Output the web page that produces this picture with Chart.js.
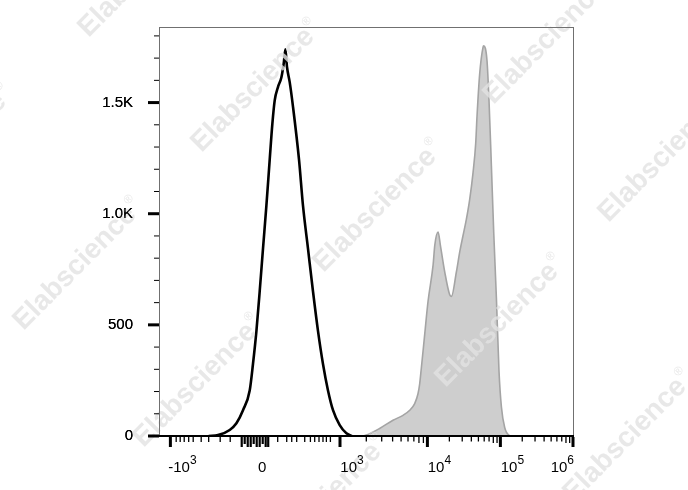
<!DOCTYPE html>
<html>
<head>
<meta charset="utf-8">
<script src="https://cdn.jsdelivr.net/npm/chart.js@4/dist/chart.umd.min.js"></script>
<style>
html,body{margin:0;padding:0;background:#fff;}
canvas{display:block;}
</style>
</head>
<body>
<canvas id="c" width="688" height="490"></canvas>
<script>
// x is the display channel of the biexponential axis (0 = left edge, 1000 = right edge)
const blackX = [120, 142.5, 170.8, 187, 202.9, 219.1, 227, 235.3, 243.2, 251.2, 259.4, 267.4, 273.9, 279.5, 287.4, 295.7, 301.2, 305.3, 309.2, 315.7, 323.7, 338.2, 347.8, 359.9, 372, 384.1, 396.1, 408.2, 420.3, 436.5, 452.7, 465.5];
const blackY = [0, 4, 27, 57, 116, 205, 324, 472, 650, 843, 1036, 1243, 1406, 1510, 1570, 1614, 1675, 1740, 1660, 1592, 1481, 1243, 1036, 843, 650, 472, 324, 205, 116, 49, 12, 0];

const grayX = [492.8, 501, 532.9, 565.2, 589.4, 605.6, 617.6, 625.6, 629.7, 633.8, 641.8, 649.8, 662.1, 666.2, 674.2, 679.7, 690.1, 702.2, 706.3, 718.4, 726.4, 734.4, 742.5, 750.5, 758.5, 765, 768.1, 774.6, 782.6, 784.3, 792.3, 797.1, 802.9, 808.5, 815, 821.3, 827.1, 835, 845, 854];
const grayY = [0, 4, 34, 71, 93, 116, 146, 190, 235, 308, 457, 605, 770, 859, 917, 858, 739, 635, 628, 739, 828, 902, 976, 1065, 1184, 1317, 1436, 1629, 1748, 1755, 1688, 1510, 1215, 917, 620, 290, 130, 38, 4, 0];

// axis ticks
const xMajorTicks = [27.5, 220, 437.2, 648.3, 824.6, 1000];
const xLabelBase = ["-10", "0", "10", "10", "10", "10"];
const xLabelExp = ["3", "", "3", "4", "5", "6"];
const xLinearMinorTicks = [41.5, 51.2, 60.9, 71.7, 82.6, 101.9, 120, 147.8, 172, 286.7, 308.5, 320.6, 332.6, 352, 365.7, 376.1, 386.5, 396.1, 404.3, 414];
const xZeroClusterTicks = [199.8, 207, 214.3, 221.5, 228.7, 236, 243.2, 250.5, 257.7, 263.8];
const yTickValues = [0, 500, 1000, 1500];
const yTickLabels = ["0", "500", "1.0K", "1.5K"];
const yMinorTicks = [100, 200, 300, 400, 600, 700, 800, 900, 1100, 1200, 1300, 1400, 1600, 1700, 1800];
const watermarkText = "Elabscience";

const FONT = "'Liberation Sans', Arial, Helvetica, sans-serif";

const blackData = blackX.map((x, i) => ({x: x, y: blackY[i]}));
const grayData = grayX.map((x, i) => ({x: x, y: grayY[i]}));

const decorPlugin = {
  id: 'decor',
  afterDatasetsDraw(chart) {
    const ctx = chart.ctx;
    const a = chart.chartArea;
    const xs = chart.scales.x, ys = chart.scales.y;
    const line = (x1, y1, x2, y2) => { ctx.beginPath(); ctx.moveTo(x1, y1); ctx.lineTo(x2, y2); ctx.stroke(); };
    ctx.save();
    // watermarks (under axes and labels)
    const wm = [[140, -25], [253, 90], [375, 210], [497, 325], [625, 440], [-55, 155], [75, 268], [195, 385], [320, 505], [545, 42], [660, 160]];
    ctx.fillStyle = 'rgba(226,226,226,0.8)';
    wm.forEach(c => {
      ctx.save();
      ctx.translate(c[0], c[1]);
      ctx.rotate(-0.79);
      ctx.font = 'bold 28px ' + FONT;
      ctx.textAlign = 'center';
      ctx.textBaseline = 'middle';
      const w = ctx.measureText(watermarkText).width;
      ctx.fillText(watermarkText, 0, 0);
      ctx.font = '12px ' + FONT;
      ctx.textAlign = 'left';
      ctx.fillText('\u00AE', w / 2 + 1, -10);
      ctx.restore();
    });
    // redraw the y tick labels above the watermarks
    try { ys.drawLabels(a); } catch (e) {}
    // frame
    ctx.strokeStyle = '#707070';
    ctx.lineWidth = 1;
    ctx.strokeRect(Math.round(a.left) + 0.5, Math.round(a.top) + 0.5, Math.round(a.right - a.left), Math.round(a.bottom - a.top));
    ctx.strokeStyle = '#000';
    ctx.lineWidth = 2;
    line(a.left - 1, a.bottom, a.right + 1, a.bottom);
    // y ticks
    ctx.strokeStyle = '#000';
    yTickValues.forEach(v => { const p = ys.getPixelForValue(v); ctx.lineWidth = 3; line(a.left - 11, p, a.left, p); });
    yMinorTicks.forEach(v => { const p = ys.getPixelForValue(v); ctx.lineWidth = 1; line(a.left - 5, p, a.left, p); });
    // x ticks
    const b = a.bottom + 1;
    const decades = [[437.2, 648.3], [648.3, 824.6], [824.6, 1000]];
    ctx.lineWidth = 1.3;
    decades.forEach(d => { for (let k = 2; k <= 9; k++) { const p = xs.getPixelForValue(d[0] + (d[1] - d[0]) * Math.log10(k)); line(p, b, p, b + (k === 9 || k === 8 ? 6 : 4.5)); } });
    xLinearMinorTicks.forEach(v => { const p = xs.getPixelForValue(v); line(p, b, p, b + 5); });
    ctx.lineWidth = 2.2;
    xZeroClusterTicks.forEach((v, i) => { const p = xs.getPixelForValue(v); line(p, b, p, b + (i % 3 === 1 ? 7 : 10)); });
    ctx.lineWidth = 3;
    xMajorTicks.forEach((v, i) => { if (i === 1) return; const p = xs.getPixelForValue(v); line(p, b, p, b + 10); });
    // x labels with superscripts
    ctx.fillStyle = '#000';
    ctx.textBaseline = 'alphabetic';
    ctx.textAlign = 'left';
    xMajorTicks.forEach((v, i) => {
      const p = xs.getPixelForValue(v);
      ctx.font = '15px ' + FONT;
      const wb = ctx.measureText(xLabelBase[i]).width;
      ctx.font = '12px ' + FONT;
      const we = xLabelExp[i] ? ctx.measureText(xLabelExp[i]).width : 0;
      let left = p + 12 - (wb + we) / 2;
      if (left + wb + we > a.right + 1) left = a.right + 1 - wb - we;
      ctx.font = '15px ' + FONT;
      ctx.fillText(xLabelBase[i], left, 472);
      if (xLabelExp[i]) { ctx.font = '12px ' + FONT; ctx.fillText(xLabelExp[i], left + wb, 464); }
    });
    ctx.restore();
  }
};

new Chart(document.getElementById('c'), {
  type: 'line',
  data: {
    datasets: [
      {
        data: grayData,
        borderColor: '#a4a4a4',
        backgroundColor: '#cecece',
        borderWidth: 1.6,
        fill: 'origin',
        pointRadius: 0,
        cubicInterpolationMode: 'monotone'
      },
      {
        data: blackData,
        borderColor: '#000',
        borderWidth: 2.6,
        fill: false,
        pointRadius: 0,
        cubicInterpolationMode: 'monotone'
      }
    ]
  },
  options: {
    responsive: false,
    devicePixelRatio: 1,
    animation: false,
    events: [],
    layout: { padding: { top: 23, right: 115, left: 0, bottom: 0 } },
    plugins: { legend: { display: false }, tooltip: { enabled: false } },
    scales: {
      x: {
        type: 'linear', min: 0, max: 1000,
        grid: { display: false }, border: { display: false },
        ticks: { display: false },
        afterFit: s => { s.height = 54; }
      },
      y: {
        type: 'linear', min: 0, max: 1840,
        grid: { display: false }, border: { display: false },
        afterBuildTicks: s => { s.ticks = yTickValues.map(v => ({value: v})); },
        ticks: {
          padding: 18,
          color: '#000',
          font: { family: FONT, size: 15 },
          callback: v => { const i = yTickValues.indexOf(v); return i >= 0 ? yTickLabels[i] : ''; }
        },
        afterFit: s => { s.width = 159; }
      }
    }
  },
  plugins: [decorPlugin]
});
</script>
</body>
</html>
